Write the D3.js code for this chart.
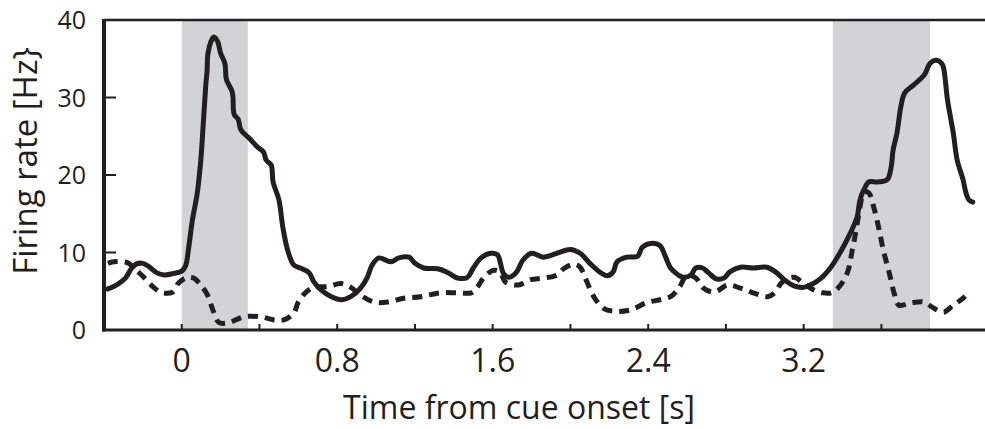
<!DOCTYPE html>
<html>
<head>
<meta charset="utf-8">
<script src="https://cdn.jsdelivr.net/npm/d3@7"></script>
<style>
  html, body { margin: 0; padding: 0; background: #fff; }
  text { font-family: 'Open Sans', sans-serif; fill: #231f20; }
</style>
</head>
<body>
<svg id="svg" width="985" height="429"></svg>
<script>
const width = 985;
const height = 429;
const inkColor = '#231f20';
const bandColor = '#d1d3d4';

const paddings = {
	left: 104,
	top: 20,
	right: 0,
	bottom: 99
};

// time [s] and firing rate [Hz], solid trace
const solidTime = [-0.38, -0.33, -0.29, -0.26, -0.235, -0.2, -0.17, -0.13, -0.09, -0.04, 0, 0.02, 0.035, 0.055, 0.08, 0.098, 0.113, 0.125, 0.13, 0.135, 0.15, 0.165, 0.185, 0.2, 0.222, 0.23, 0.26, 0.27, 0.29, 0.305, 0.345, 0.39, 0.42, 0.435, 0.46, 0.47, 0.5, 0.52, 0.545, 0.576, 0.61, 0.655, 0.68, 0.715, 0.77, 0.82, 0.87, 0.92, 0.955, 0.98, 1.015, 1.075, 1.117, 1.17, 1.2, 1.245, 1.317, 1.37, 1.42, 1.47, 1.5, 1.54, 1.59, 1.625, 1.64, 1.655, 1.68, 1.72, 1.755, 1.8, 1.86, 1.93, 2.0, 2.05, 2.1, 2.155, 2.19, 2.22, 2.24, 2.29, 2.345, 2.37, 2.42, 2.46, 2.49, 2.515, 2.555, 2.58, 2.62, 2.645, 2.68, 2.71, 2.75, 2.79, 2.82, 2.875, 2.94, 3.01, 3.055, 3.1, 3.15, 3.2, 3.235, 3.29, 3.34, 3.39, 3.44, 3.475, 3.49, 3.51, 3.535, 3.58, 3.63, 3.65, 3.66, 3.68, 3.7, 3.72, 3.765, 3.82, 3.85, 3.88, 3.91, 3.92, 3.94, 3.955, 3.97, 3.99, 4.02, 4.035, 4.05, 4.07];
const solidRate = [5.3, 5.9, 6.7, 7.9, 8.5, 8.6, 8.2, 7.4, 7.1, 7.3, 7.6, 8.3, 10.5, 14.2, 17.7, 21.9, 27.5, 32.0, 33.3, 35.7, 37.2, 37.8, 37.2, 35.7, 34.4, 32.3, 30.7, 27.8, 27.2, 25.8, 24.8, 23.6, 23.0, 21.9, 21.3, 19.1, 16.8, 13.3, 10.3, 8.4, 8.0, 7.4, 6.2, 5.2, 4.3, 3.9, 4.3, 5.4, 6.8, 8.4, 9.3, 8.8, 9.3, 9.4, 8.6, 8.0, 7.9, 7.4, 6.7, 6.8, 8.0, 9.3, 9.9, 9.7, 8.6, 7.3, 6.8, 7.4, 9.0, 9.9, 9.4, 9.9, 10.4, 9.9, 8.6, 7.4, 7.0, 7.5, 8.8, 9.4, 9.5, 10.7, 11.2, 10.9, 9.4, 8.0, 7.1, 6.8, 7.1, 8.0, 8.0, 7.4, 6.6, 6.7, 7.5, 8.1, 8.0, 8.1, 7.5, 6.5, 5.7, 5.5, 5.8, 6.7, 8.1, 10.1, 12.5, 14.6, 16.8, 18.1, 19.1, 19.1, 19.4, 21.0, 23.2, 25.4, 28.8, 30.6, 31.6, 32.9, 34.4, 34.8, 34.4, 33.8, 29.7, 27.5, 25.4, 21.9, 19.4, 17.7, 16.8, 16.5];

// time [s] and firing rate [Hz], dashed trace
const dashedTime = [-0.38, -0.35, -0.28, -0.25, -0.195, -0.14, -0.1, -0.046, -0.015, 0.03, 0.062, 0.098, 0.133, 0.16, 0.19, 0.236, 0.32, 0.405, 0.475, 0.525, 0.577, 0.6, 0.64, 0.68, 0.75, 0.82, 0.87, 0.92, 0.99, 1.06, 1.14, 1.23, 1.33, 1.42, 1.49, 1.52, 1.555, 1.605, 1.64, 1.665, 1.73, 1.795, 1.86, 1.93, 1.965, 2.02, 2.05, 2.08, 2.12, 2.17, 2.24, 2.31, 2.39, 2.46, 2.515, 2.56, 2.6, 2.645, 2.685, 2.74, 2.81, 2.875, 2.94, 3.015, 3.05, 3.09, 3.15, 3.2, 3.25, 3.3, 3.34, 3.38, 3.425, 3.45, 3.47, 3.49, 3.51, 3.535, 3.56, 3.585, 3.61, 3.64, 3.665, 3.69, 3.75, 3.82, 3.87, 3.92, 3.97, 4.02, 4.05];
const dashedRate = [8.6, 8.8, 8.7, 8.1, 6.8, 5.4, 4.8, 4.9, 6.1, 6.8, 6.7, 5.8, 4.5, 2.6, 1.0, 0.9, 1.7, 1.7, 1.3, 1.3, 2.2, 3.6, 4.9, 5.5, 5.6, 6.0, 5.5, 4.5, 3.6, 3.6, 4.1, 4.3, 4.8, 4.8, 4.8, 5.5, 6.8, 7.7, 7.4, 6.2, 5.8, 6.5, 6.7, 7.1, 7.9, 8.5, 8.1, 6.5, 4.3, 2.8, 2.4, 2.6, 3.5, 3.9, 4.3, 5.5, 7.1, 6.7, 5.4, 4.9, 5.8, 5.4, 4.8, 4.3, 4.8, 6.2, 6.8, 6.0, 5.2, 4.8, 4.8, 5.5, 7.4, 10.3, 12.9, 15.9, 17.8, 17.7, 15.9, 13.3, 10.3, 7.4, 4.8, 3.2, 3.5, 3.6, 2.8, 2.3, 3.2, 4.1, 4.8];

// shaded epochs [start, end] in s
const epochs = [[0, 0.34], [3.35, 3.85]];

const xTicks = [0, 0.4, 0.8, 1.2, 1.6, 2.0, 2.4, 2.8, 3.2, 3.6];
const xLabels = [0, 0.8, 1.6, 2.4, 3.2];
const yTicks = [0, 10, 20, 30, 40];

const svg = d3.select('#svg');

const xScale = d3.scaleLinear()
	.domain([-0.4, 4.133])
	.range([paddings.left, width - paddings.right]);

const yScale = d3.scaleLinear()
	.domain([0, 40])
	.range([height - paddings.bottom, paddings.top]);

renderBands();
renderData();
renderAxes();

function renderBands() {
	svg.append('g')
		.selectAll('rect')
		.data(epochs)
		.enter()
		.append('rect')
		.attr('x', d => xScale(d[0]))
		.attr('y', yScale(40))
		.attr('width', d => xScale(d[1]) - xScale(d[0]))
		.attr('height', yScale(0) - yScale(40))
		.attr('fill', bandColor);
}

function renderData() {
	const line = d3.line()
		.x(d => xScale(d[0]))
		.y(d => yScale(d[1]))
		.curve(d3.curveCatmullRom.alpha(0.5));

	const dashed = d3.zip(dashedTime, dashedRate);
	const solid = d3.zip(solidTime, solidRate);

	svg.append('path')
		.attr('d', line(dashed))
		.style('fill', 'none')
		.style('stroke', inkColor)
		.style('stroke-width', 5)
		.style('stroke-dasharray', '10,7');

	svg.append('path')
		.attr('d', line(solid))
		.style('fill', 'none')
		.style('stroke', inkColor)
		.style('stroke-width', 5)
		.style('stroke-linejoin', 'round')
		.style('stroke-linecap', 'round');
}

function renderAxes() {
	const x0 = xScale.range()[0];
	const x1 = xScale.range()[1];
	const y0 = yScale(0);
	const y1 = yScale(40);

	// x ticks (inward)
	svg.append('g')
		.selectAll('line')
		.data(xTicks)
		.enter()
		.append('line')
		.attr('x1', d => xScale(d))
		.attr('x2', d => xScale(d))
		.attr('y1', y0)
		.attr('y2', y0 - 6)
		.attr('stroke', inkColor)
		.attr('stroke-width', 2);

	// y ticks (inward)
	svg.append('g')
		.selectAll('line')
		.data(yTicks.slice(1, -1))
		.enter()
		.append('line')
		.attr('x1', x0)
		.attr('x2', x0 + 12)
		.attr('y1', d => yScale(d))
		.attr('y2', d => yScale(d))
		.attr('stroke', inkColor)
		.attr('stroke-width', 2);

	// frame: top, left, bottom
	svg.append('line')
		.attr('x1', x0).attr('x2', x1)
		.attr('y1', y1).attr('y2', y1)
		.attr('stroke', inkColor).attr('stroke-width', 2.5);
	svg.append('line')
		.attr('x1', x0).attr('x2', x0)
		.attr('y1', y1 - 1).attr('y2', y0 + 1.5)
		.attr('stroke', inkColor).attr('stroke-width', 4);
	svg.append('line')
		.attr('x1', x0 - 2).attr('x2', x1)
		.attr('y1', y0).attr('y2', y0)
		.attr('stroke', inkColor).attr('stroke-width', 3);

	svg.append('g')
		.selectAll('text')
		.data(xLabels)
		.enter()
		.append('text')
		.attr('x', d => xScale(d))
		.attr('y', 372)
		.attr('text-anchor', 'middle')
		.style('font-size', '32px')
		.text(d => d === 0 ? '0' : d.toFixed(1));

	svg.append('g')
		.selectAll('text')
		.data(yTicks)
		.enter()
		.append('text')
		.attr('x', 86)
		.attr('y', d => yScale(d) + 9)
		.attr('text-anchor', 'end')
		.style('font-size', '25px')
		.text(d => d);

	svg.append('text')
		.attr('x', 519)
		.attr('y', 419)
		.attr('text-anchor', 'middle')
		.style('font-size', '32px')
		.text('Time from cue onset [s]');

	svg.append('text')
		.attr('transform', 'translate(37,161) rotate(-90)')
		.attr('text-anchor', 'middle')
		.style('font-size', '33px')
		.text('Firing rate [Hz}');
}
</script>
</body>
</html>
